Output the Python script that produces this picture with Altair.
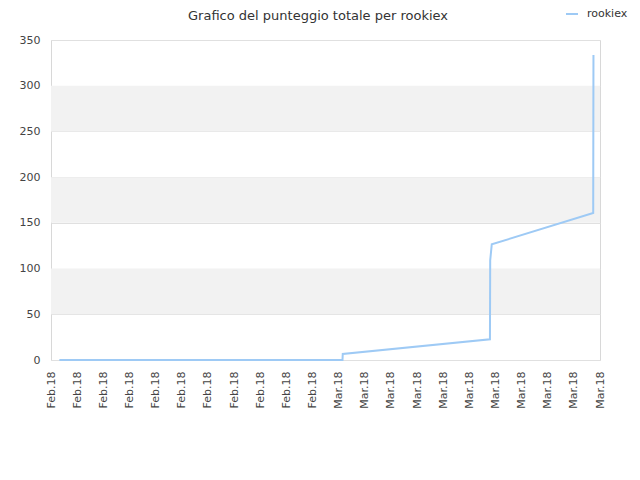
import altair as alt
import pandas as pd

# Series values (x in tick-index units, y = total score)
x_vals = [0.32, 11.15, 11.16, 16.79, 16.80, 16.86, 20.74, 20.75]
y_vals = [0, 0, 6.6, 22.6, 109, 126.5, 160.8, 333.5]
series = ["rookiex"] * len(x_vals)

tick_labels = ["Feb.18"] * 11 + ["Mar.18"] * 11
band_lo = [50, 150, 250]
band_hi = [100, 200, 300]
title_text = ["Grafico del punteggio totale per rookiex"]

line_df = pd.DataFrame({"x": x_vals, "y": y_vals, "s": series})
band_df = pd.DataFrame({"lo": band_lo, "hi": band_hi})
title_df = pd.DataFrame({"t": title_text})

label_expr = "[" + ",".join("'%s'" % t for t in tick_labels) + "][datum.value]"

xscale = alt.Scale(domain=[0, len(tick_labels) - 1], nice=False, zero=False)
yscale = alt.Scale(domain=[0, 350], nice=False)

bands = alt.Chart(band_df).mark_rect(color="#f2f2f2").encode(
    x=alt.value(0),
    x2=alt.value(549),
    y=alt.Y("lo:Q", scale=yscale,
            axis=alt.Axis(values=[0, 50, 100, 150, 200, 250, 300, 350],
                          grid=True, gridColor="#e0e0e0", domain=False,
                          ticks=False, labelPadding=11, labelFontSize=11,
                          labelColor="#444444", labelFont="DejaVu Sans",
                          title=None)),
    y2="hi:Q",
)

line = alt.Chart(line_df).mark_line(strokeWidth=2).encode(
    x=alt.X("x:Q", scale=xscale,
            axis=alt.Axis(values=list(range(len(tick_labels))),
                          labelExpr=label_expr, labelAngle=270,
                          grid=False, domain=False, ticks=False,
                          labelPadding=11, labelFontSize=11,
                          labelColor="#444444", labelFont="DejaVu Sans",
                          labelOverlap=False, title=None)),
    y=alt.Y("y:Q", scale=yscale),
    color=alt.Color("s:N", scale=alt.Scale(range=["#9ecaf5"]),
                    legend=alt.Legend(orient="none", legendX=514, legendY=-33,
                                      title=None, symbolType="stroke",
                                      symbolStrokeWidth=2, symbolSize=144,
                                      labelOffset=8, labelFontSize=11,
                                      labelFont="DejaVu Sans",
                                      labelColor="#333333")),
)

title = alt.Chart(title_df).mark_text(
    fontSize=13, font="DejaVu Sans", color="#333333",
    align="center", baseline="alphabetic",
).encode(x=alt.value(267), y=alt.value(-20), text="t:N")

chart = alt.layer(bands, line, title).properties(
    width=549,
    height=320,
    autosize=alt.AutoSizeParams(type="none"),
    padding={"left": 43, "top": 32, "right": 32, "bottom": 112},
).configure_view(stroke="#d8d8d8", strokeWidth=1)

chart.save("out.html", embed_options={"renderer": "svg", "actions": False})
